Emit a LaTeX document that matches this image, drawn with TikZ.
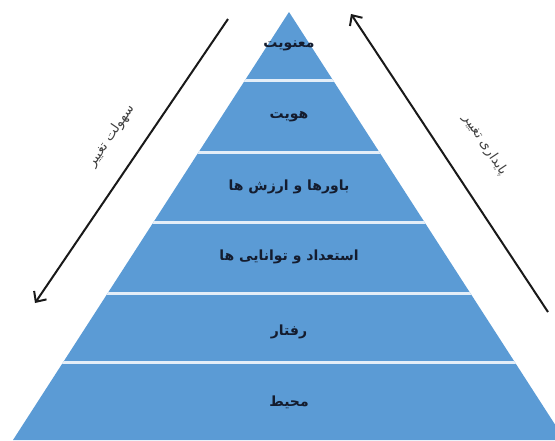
\documentclass[tikz,border=0pt]{standalone}
\usepackage{fontspec}
\newfontfamily\arabicfont[Script=Arabic]{DejaVu Sans}
\TeXXeTstate=1
\usetikzlibrary{arrows.meta}
\definecolor{pyrblue}{HTML}{5B9BD5}
\definecolor{seplight}{HTML}{E4EEF8}
\definecolor{txtdark}{HTML}{141C2E}
\tikzset{
  band/.style={font=\arabicfont\bfseries\fontsize{14}{16}\selectfont, text=txtdark, inner sep=1pt},
  sidelabel/.style={font=\arabicfont\fontsize{13.5}{15}\selectfont, text=black!75, inner sep=1pt},
  sep/.style={draw=seplight, line width=3pt},
  flow/.style={draw=black!90, line width=2pt, -{Straight Barb[length=8pt,width=15pt,line width=2pt]}}
}
\begin{document}
\begin{tikzpicture}[x=1pt,y=-1pt]
\useasboundingbox (0,0) rectangle (555,440);
% pyramid
\coordinate (apex) at (289,12);
\coordinate (bl) at (13,440);
\coordinate (br) at (565,440);
\begin{scope}
\clip (0,0) rectangle (555,440);
\fill[pyrblue] (apex) -- (bl) -- (br) -- cycle;
\clip (apex) -- (bl) -- (br) -- cycle;
\foreach \yy in {80,152,222,293,362}{
  \draw[sep] (0,\yy) -- (555,\yy);
}
\end{scope}
% band texts
\node[band] (l1) at (289,46) {\beginR معنویت\endR};
\node[band] (l2) at (289,117) {\beginR هویت\endR};
\node[band] (l3) at (289,187) {\beginR باورها و ارزش ها\endR};
\node[band] (l4) at (289,257) {\beginR استعداد و توانایی ها\endR};
\node[band] (l5) at (289,332) {\beginR رفتار\endR};
\node[band] (l6) at (289,402) {\beginR محیط\endR};
% arrows
\coordinate (la) at (228,19);
\coordinate (lb) at (35,303);
\coordinate (ra) at (548,312);
\coordinate (rb) at (351,14);
\draw[flow] (la) -- (lb);
\draw[flow] (ra) -- (rb);
\node[sidelabel, rotate=55.8] (lt) at (111,136) {\beginR سهولت تغییر\endR};
\node[sidelabel, rotate=-56.5] (rt) at (485,145) {\beginR پایداری تغییر\endR};
\end{tikzpicture}
\end{document}
